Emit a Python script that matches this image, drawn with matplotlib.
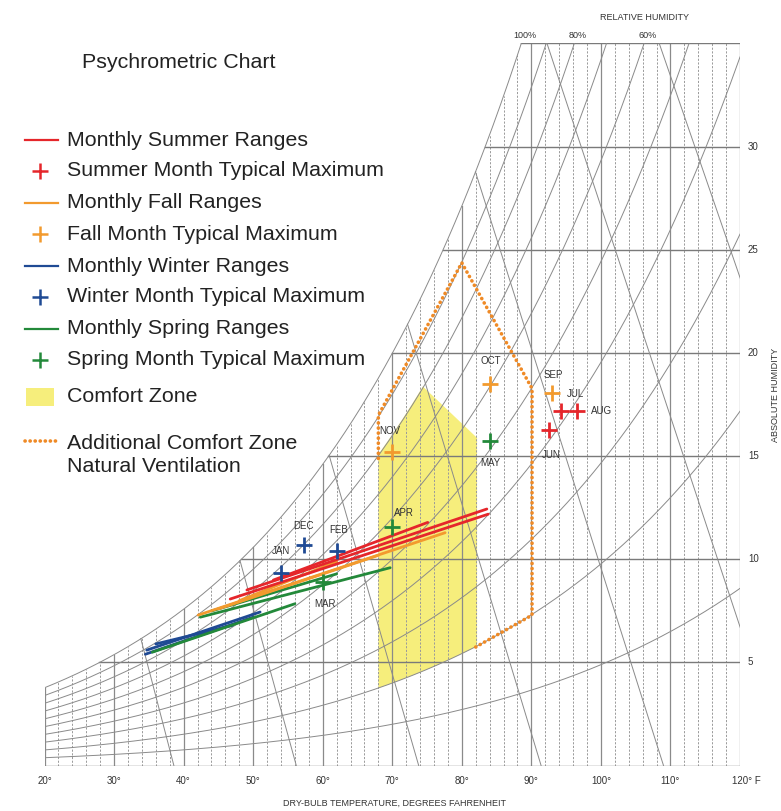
import numpy as np
import matplotlib
matplotlib.use("Agg")
import matplotlib.pyplot as plt
from matplotlib.patches import Polygon, Rectangle
from matplotlib.lines import Line2D

# ---------------------------------------------------------------
# Chart calibration: humidity at saturation (100% RH) vs dry bulb
# ---------------------------------------------------------------
SAT_T = [20, 30, 40, 48.1, 60.6, 70.1, 77.3, 83.6, 88.3, 120]
SAT_W = [3.8, 5.3, 7.6, 10.0, 15.0, 20.0, 25.0, 30.0, 35.0, 86.0]

RH_LEVELS = [1.0, 0.9, 0.8, 0.7, 0.6, 0.5, 0.4, 0.3, 0.2, 0.1]
# slanted specific-volume lines, given by their dry-bulb value at zero humidity
VOL_T0 = [38.6, 56.2, 73.8, 91.4, 109.0, 126.6, 144.2]

T_MIN, T_MAX = 20, 120
W_MAX = 35.07
X_TICKS = [20, 30, 40, 50, 60, 70, 80, 90, 100, 110, 120]
Y_TICKS = [5, 10, 15, 20, 25, 30]
RH_TOP_LABELS = [(1.0, "100%"), (0.8, "80%"), (0.6, "60%")]

# ---------------------------------------------------------------
# Climate data (dry bulb F, absolute humidity)
# ---------------------------------------------------------------
SUMMER_RANGES = [((46.7, 8.08), (83.8, 12.2)), ((49.1, 8.52), (83.6, 12.45)),
                 ((52.9, 9.0), (75.1, 11.8))]
FALL_RANGES = [((42.1, 7.3), (77.6, 11.3)), ((45.0, 7.6), (68.0, 10.2)),
               ((48.0, 8.0), (62.0, 9.9))]
WINTER_RANGES = [((34.7, 5.6), (51.0, 7.45)), ((34.5, 5.4), (50.0, 7.2)),
                 ((36.0, 5.9), (47.0, 6.8))]
SPRING_RANGES = [((42.4, 7.2), (69.7, 9.6)), ((35.5, 5.5), (56.0, 7.85)),
                 ((44.0, 7.5), (62.0, 9.3))]

SUMMER_MAX = {"JUN": (92.5, 16.3), "JUL": (94.3, 17.2), "AUG": (96.6, 17.2)}
FALL_MAX = {"SEP": (93.0, 18.1), "OCT": (84.1, 18.5), "NOV": (70.0, 15.2)}
WINTER_MAX = {"DEC": (57.3, 10.7), "JAN": (54.0, 9.35), "FEB": (62.1, 10.4)}
SPRING_MAX = {"MAR": (60.0, 8.9), "APR": (70.0, 11.6), "MAY": (84.1, 15.75)}

# comfort zone outline
COMFORT_T_LEFT, COMFORT_T_RIGHT = 68.0, 82.2
COMFORT_W_BOTTOM_LEFT = 3.76
COMFORT_W_TOP_LEFT = 14.98
COMFORT_APEX = (74.4, 18.4)
COMFORT_W_TOP_RIGHT = 15.9

# natural ventilation extension
VENT_T = [82.0, 90.1, 90.1, 80.0, 68.0, 68.0]
VENT_W = [5.75, 7.3, 18.3, 24.4, 17.0, 14.9]

C_RED = "#e5262b"
C_ORANGE = "#f29a2e"
C_BLUE = "#1f4a94"
C_GREEN = "#23893a"
C_YELLOW = "#f6ee7c"
C_GRID = "#8a8a8a"
C_DOT = "#ef8a26"

W_PX, H_PX = 781, 811
fig = plt.figure(figsize=(W_PX / 100, H_PX / 100), dpi=100)
fig.patch.set_facecolor("white")


def fx(px):
    return px / W_PX


def fy(py):
    return 1 - py / H_PX


L, R, T, B = 44.5, 740, 43, 765.5
ax = fig.add_axes([fx(L), fy(B), (R - L) / W_PX, (B - T) / H_PX])
ax.set_xlim(T_MIN, T_MAX)
ax.set_ylim(0, W_MAX)
ax.axis("off")

coef = np.polyfit(SAT_T, np.log(SAT_W), 3)


def wsat(t):
    return np.exp(np.polyval(coef, t))


tt = np.linspace(T_MIN, T_MAX, 2001)
ws = wsat(tt)


def tsat(w):
    return np.interp(w, ws, tt)


grid_kw = dict(color=C_GRID, lw=0.7, zorder=2)

# vertical dry-bulb lines
for t in range(T_MIN, T_MAX + 1, 2):
    top = min(wsat(t), W_MAX)
    if t == T_MAX:
        top = W_MAX
    if t % 10 == 0:
        ax.plot([t, t], [0, top], color=C_GRID, lw=0.9, zorder=2)
    else:
        ax.plot([t, t], [0, top], color="#9a9a9a", lw=0.7,
                ls=(0, (2.2, 1.6)), zorder=2)

# horizontal humidity lines
for w in Y_TICKS:
    ax.plot([tsat(w), T_MAX], [w, w], color="#7a7a7a", lw=1.0, zorder=2)

# frame pieces
ax.plot([T_MIN, T_MAX], [0, 0], color="#7a7a7a", lw=1.0, zorder=2)
ax.plot([tsat(W_MAX), T_MAX], [W_MAX, W_MAX], color="#7a7a7a", lw=1.0, zorder=2)

# relative humidity curves
for rh in RH_LEVELS:
    ax.plot(tt, rh * ws, **grid_kw)

# specific volume lines
wgrid = np.linspace(0, 40, 4001)
for t0 in VOL_T0:
    dxdy = 0.26 + 0.0008 * (t0 - 38)
    k = dxdy * 20.6 / 6.955
    tl = t0 - k * wgrid
    diff = wsat(tl) - wgrid
    idx = np.argmax(diff <= 0) if np.any(diff <= 0) else len(wgrid) - 1
    ax.plot(tl[:idx + 1], wgrid[:idx + 1], **grid_kw)

# comfort zone
rh_low = COMFORT_W_BOTTOM_LEFT / wsat(COMFORT_T_LEFT)
rh_high = COMFORT_APEX[1] / wsat(COMFORT_APEX[0])
tb = np.linspace(COMFORT_T_LEFT, COMFORT_T_RIGHT, 60)
tu = np.linspace(COMFORT_APEX[0], COMFORT_T_LEFT, 40)
poly = list(zip(tb, rh_low * wsat(tb)))
poly += [(COMFORT_T_RIGHT, COMFORT_W_TOP_RIGHT), COMFORT_APEX]
poly += list(zip(tu, rh_high * wsat(tu)))
ax.add_patch(Polygon(poly, closed=True, facecolor=C_YELLOW, edgecolor="none", zorder=1))

# natural ventilation zone
ax.plot(VENT_T, VENT_W, color=C_DOT, lw=2.6, ls=(0, (0.05, 1.35)),
        dash_capstyle="round", zorder=4)

# monthly ranges
for ranges, col in [(WINTER_RANGES, C_BLUE), (SPRING_RANGES, C_GREEN),
                    (FALL_RANGES, C_ORANGE), (SUMMER_RANGES, C_RED)]:
    for (t1, w1), (t2, w2) in ranges:
        ax.plot([t1, t2], [w1, w2], color=col, lw=2.0, solid_capstyle="round", zorder=5)

# monthly typical maxima
label_off = {"JUN": (0.3, -1.0, "center", "top"), "JUL": (0.8, 0.6, "left", "bottom"),
             "AUG": (2.0, 0, "left", "center"), "SEP": (0.1, 0.6, "center", "bottom"),
             "OCT": (0.0, 0.9, "center", "bottom"), "NOV": (-0.3, 0.8, "center", "bottom"),
             "DEC": (0.0, 0.7, "center", "bottom"), "JAN": (0.0, 0.8, "center", "bottom"),
             "FEB": (0.2, 0.8, "center", "bottom"), "MAR": (0.4, -0.8, "center", "top"),
             "APR": (0.3, 0.4, "left", "bottom"), "MAY": (0.0, -0.8, "center", "top")}
for pts, col in [(SUMMER_MAX, C_RED), (FALL_MAX, C_ORANGE), (WINTER_MAX, C_BLUE),
                 (SPRING_MAX, C_GREEN)]:
    for name, (t, w) in pts.items():
        ax.plot([t], [w], marker="+", ms=12, mew=2.0, color=col, zorder=6)
        dx, dy, ha, va = label_off[name]
        ax.text(t + dx, w + dy, name, fontsize=7, ha=ha, va=va, color="#333333",
                family="Liberation Sans", zorder=7)

# tick labels
for t in X_TICKS:
    lab = f"{t}°" if t != 120 else "120° F"
    x = fx(L + (t - T_MIN) * (R - L) / (T_MAX - T_MIN))
    fig.text(x + (0.008 if t == 120 else 0), fy(781), lab, fontsize=7, ha="center",
             va="center", color="#333333", family="Liberation Sans")
for w in Y_TICKS:
    y = fy(B - w * (B - T) / W_MAX)
    fig.text(fx(748), y, str(w), fontsize=7, ha="left", va="center",
             color="#333333", family="Liberation Sans")

fig.text(fx(395), fy(803), "DRY-BULB TEMPERATURE, DEGREES FAHRENHEIT", fontsize=6.5,
         ha="center", va="center", color="#333333", family="Liberation Sans")
fig.text(fx(775), fy(395), "ABSOLUTE HUMIDITY", fontsize=6.5, rotation=90,
         ha="center", va="center", color="#333333", family="Liberation Sans")
fig.text(fx(645), fy(17), "RELATIVE HUMIDITY", fontsize=6.5, ha="center",
         va="center", color="#333333", family="Liberation Sans")
for rh, lab in RH_TOP_LABELS:
    tx = float(np.interp(W_MAX / rh, ws, tt)) if rh < 1 else float(tsat(W_MAX))
    fig.text(fx(L + (tx - T_MIN) * (R - L) / (T_MAX - T_MIN)) + 0.004, fy(36), lab,
             fontsize=6.5, ha="center", va="center", color="#333333",
             family="Liberation Sans")

# title and legend
fig.text(fx(82), fy(62), "Psychrometric Chart", fontsize=15.4, ha="left", va="center",
         color="#222222", family="Liberation Sans")

legend_rows = [("line", C_RED, "Monthly Summer Ranges", 140),
               ("plus", C_RED, "Summer Month Typical Maximum", 171),
               ("line", C_ORANGE, "Monthly Fall Ranges", 203),
               ("plus", C_ORANGE, "Fall Month Typical Maximum", 234),
               ("line", C_BLUE, "Monthly Winter Ranges", 266),
               ("plus", C_BLUE, "Winter Month Typical Maximum", 297),
               ("line", C_GREEN, "Monthly Spring Ranges", 329),
               ("plus", C_GREEN, "Spring Month Typical Maximum", 360)]
for kind, col, text, y in legend_rows:
    if kind == "line":
        fig.add_artist(Line2D([fx(25), fx(58)], [fy(y), fy(y)], color=col, lw=1.6))
    else:
        fig.add_artist(Line2D([fx(40)], [fy(y)], marker="+", ms=12, mew=1.8, color=col))
    fig.text(fx(67), fy(y), text, fontsize=15.4, ha="left", va="center",
             color="#222222", family="Liberation Sans")

fig.add_artist(Rectangle((fx(26), fy(406)), fx(54) - fx(26), fy(388) - fy(406),
                         facecolor=C_YELLOW, edgecolor="none"))
fig.text(fx(67), fy(397), "Comfort Zone", fontsize=15.4, ha="left", va="center",
         color="#222222", family="Liberation Sans")
fig.add_artist(Line2D([fx(25), fx(58)], [fy(441), fy(441)], color=C_DOT, lw=2.6,
                      ls=(0, (0.05, 1.35)), dash_capstyle="round"))
fig.text(fx(67), fy(443), "Additional Comfort Zone", fontsize=15.4, ha="left",
         va="center", color="#222222", family="Liberation Sans")
fig.text(fx(67), fy(467), "Natural Ventilation", fontsize=15.4, ha="left",
         va="center", color="#222222", family="Liberation Sans")

fig.savefig("out.png", dpi=100, facecolor="white")
